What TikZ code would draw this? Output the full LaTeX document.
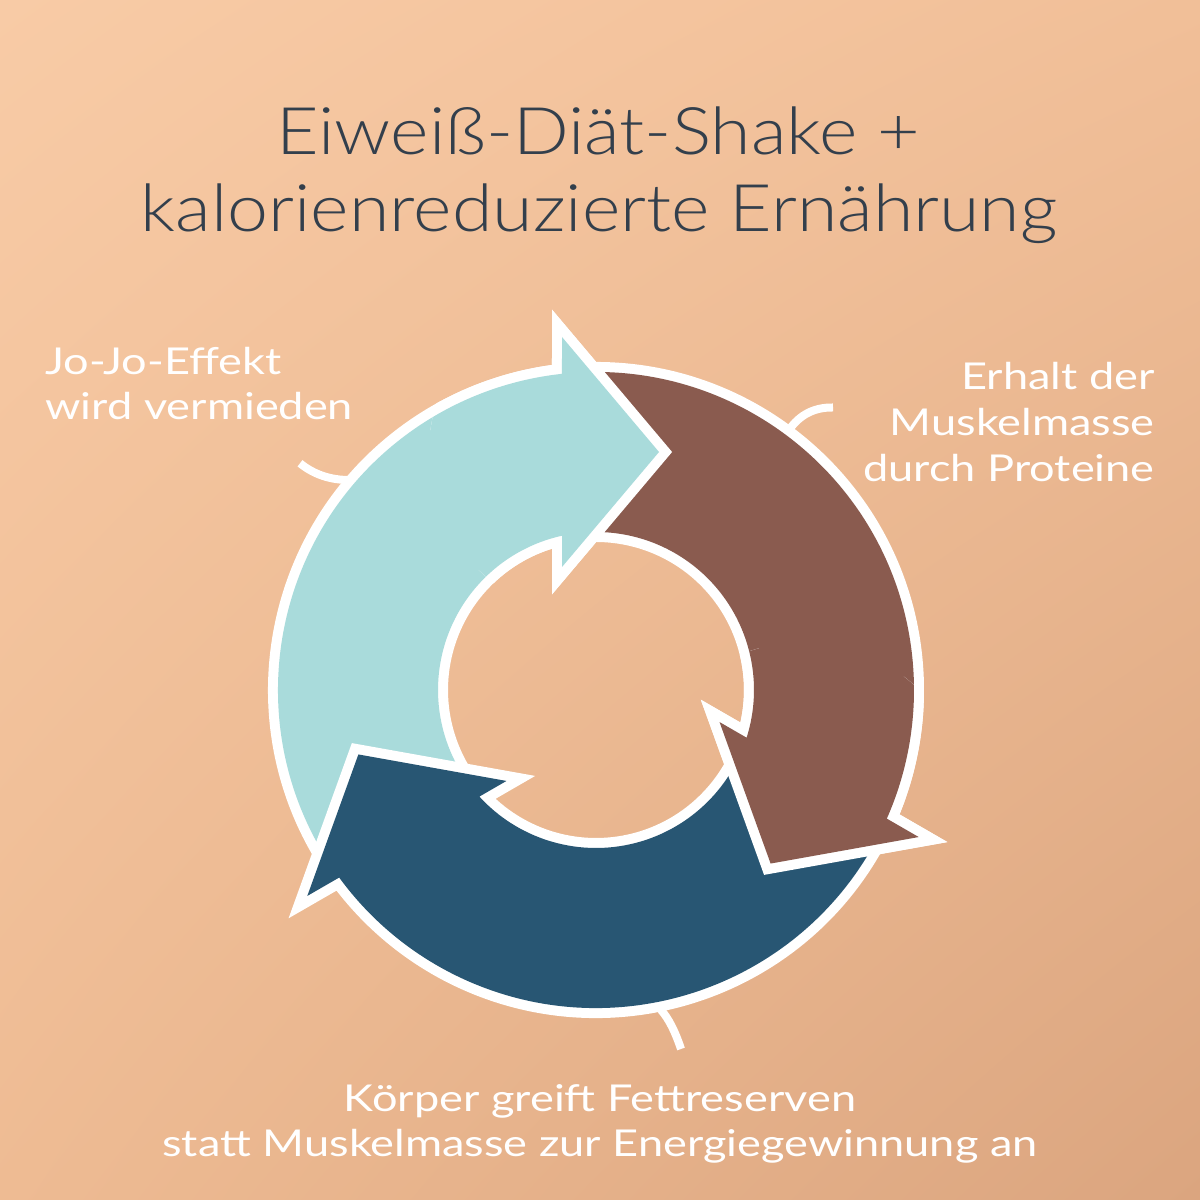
\documentclass[tikz,border=0pt]{standalone}
\usepackage{fontspec}
\usetikzlibrary{shadings}
\setmainfont{Lato}
\newfontfamily\labelfont{Lato}[FakeStretch=1.22]
\IfFontExistsTF{Lato Light}{\newfontfamily\titlefont{Lato Light}[FakeStretch=1.12]}{\newfontfamily\titlefont{Lato}[FakeStretch=1.12]}
\definecolor{bgTL}{RGB}{248,203,166}
\definecolor{bgTR}{RGB}{241,191,152}
\definecolor{bgBL}{RGB}{238,187,147}
\definecolor{bgBR}{RGB}{219,165,127}
\definecolor{cLight}{RGB}{169,219,219}
\definecolor{cBrown}{RGB}{138,91,79}
\definecolor{cDark}{RGB}{40,86,115}
\definecolor{titlecol}{RGB}{51,63,76}
\def\arrowshape{([shift={(596,510)}]215:318) arc[start angle=215,end angle=96.14,radius=318] -- (562,863) -- (659,748) -- (562,633) -- ([shift={(596,510)}]102.43:158) arc[start angle=102.43,end angle=215,radius=158] -- cycle}
\begin{document}
\begin{tikzpicture}[x=0.5pt,y=0.5pt,
  arrowfill/.style={fill=#1, line join=miter, preaction={draw=white, line width=10pt, line join=miter}},
  titletext/.style={inner sep=0pt, text=titlecol, font=\titlefont\fontsize{32.8pt}{39pt}\selectfont},
  labeltext/.style={inner sep=0pt, text=white, font=\labelfont\fontsize{18.5pt}{22pt}\selectfont},
  connector/.style={draw=white, line width=4pt, line cap=butt}]
\useasboundingbox (0,0) rectangle (1200,1200);
\shade[upper left=bgTL, upper right=bgTR, lower left=bgBL, lower right=bgBR] (0,0) rectangle (1200,1200);
% arrows
\path[arrowfill=cLight] \arrowshape;
\begin{scope}[rotate around={-120:(596,510)}]
  \path[arrowfill=cBrown] \arrowshape;
\end{scope}
\begin{scope}[rotate around={-240:(596,510)}]
  \path[arrowfill=cDark] \arrowshape;
\end{scope}
% bring heads to front
\begin{scope}
  \clip (594,748) circle[radius=165];
  \path[arrowfill=cLight] \arrowshape;
\end{scope}
\begin{scope}[rotate around={-120:(596,510)}]
  \clip (594,748) circle[radius=165];
  \path[arrowfill=cBrown] \arrowshape;
\end{scope}
% title
\node[titletext, anchor=base] (title1) at (598,1045) {Eiweiß-Diät-Shake +};
\node[titletext, anchor=base] (title2) at (599,968) {kalorienreduzierte Ernährung};
% labels
\node[labeltext, anchor=base west] (jo1) at (45,825.7) {Jo-Jo-Effekt};
\node[labeltext, anchor=base west] (jo2) at (45,780) {wird vermieden};
\node[labeltext, anchor=base east] (er1) at (1155,810) {Erhalt der};
\node[labeltext, anchor=base east] (er2) at (1155,764) {Muskelmasse};
\node[labeltext, anchor=base east] (er3) at (1155,718.3) {durch Proteine};
\node[labeltext, anchor=base] (ko1) at (600,88) {Körper greift Fettreserven};
\node[labeltext, anchor=base] (ko2) at (600,43) {statt Muskelmasse zur Energiegewinnung an};
% connectors
\coordinate (c1a) at (300,736.7);
\coordinate (c1b) at (350,720);
\coordinate (c2a) at (833,792.5);
\coordinate (c2b) at (789,770);
\coordinate (c3a) at (661,190);
\coordinate (c3b) at (681,151);
\draw[connector] (c1a) .. controls (314,725.4) and (330.7,719.8) .. (c1b);
\draw[connector] (c2a) .. controls (814.3,792.8) and (799.7,785.3) .. (c2b);
\draw[connector] (c3a) .. controls (668.3,182) and (675,169) .. (c3b);
\end{tikzpicture}
\end{document}
